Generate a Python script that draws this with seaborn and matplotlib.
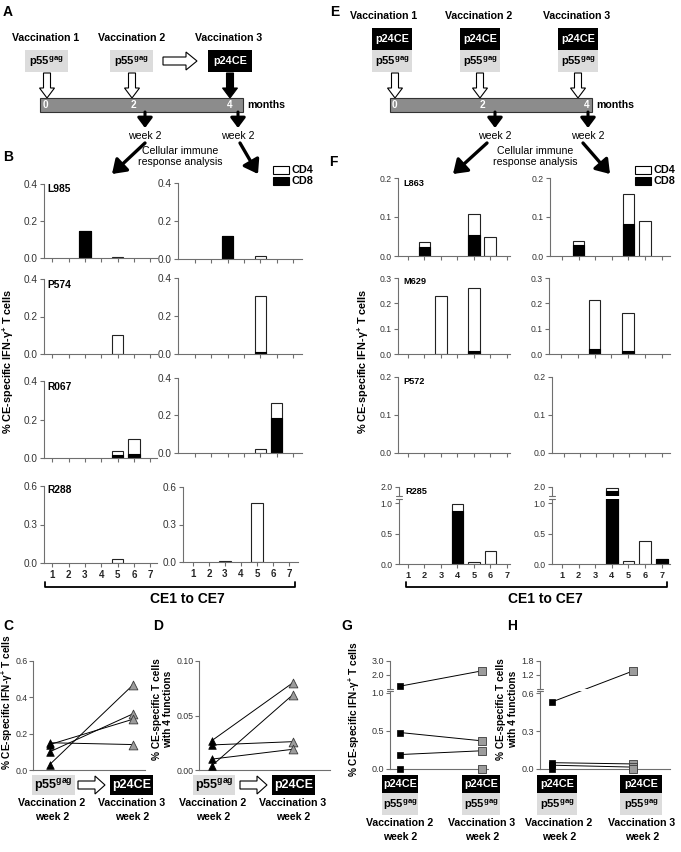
import numpy as np
import pandas as pd
import matplotlib
matplotlib.use("Agg")
import matplotlib.pyplot as plt
from matplotlib.patches import Rectangle, FancyArrow
import seaborn as sns

sns.set_style("white")
plt.rcParams["font.family"] = ["Liberation Sans", "DejaVu Sans"]
plt.rcParams["mathtext.fontset"] = "custom"
plt.rcParams["mathtext.rm"] = "Liberation Sans"
plt.rcParams["mathtext.bf"] = "Liberation Sans:bold"
plt.rcParams["mathtext.default"] = "bf"

# ---------------- data ----------------
ce = [1, 2, 3, 4, 5, 6, 7]

# panel B (p55gag x2 -> p24CE), CD8 bottom / CD4 on top, % of T cells
b_names = ["L985", "P574", "R067", "R288"]
b_cd8_v2 = [[0, 0, 0.148, 0, 0, 0, 0],
            [0, 0, 0, 0, 0, 0, 0],
            [0, 0, 0, 0, 0.017, 0.023, 0],
            [0, 0, 0, 0, 0, 0, 0]]
b_cd4_v2 = [[0, 0, 0, 0, 0.005, 0, 0],
            [0, 0, 0, 0, 0.099, 0, 0],
            [0, 0, 0, 0, 0.021, 0.074, 0],
            [0, 0, 0, 0, 0.033, 0, 0]]
b_cd8_v3 = [[0, 0, 0.123, 0, 0, 0, 0],
            [0, 0, 0, 0, 0.008, 0, 0],
            [0, 0, 0, 0, 0, 0.188, 0],
            [0, 0, 0, 0, 0, 0, 0]]
b_cd4_v3 = [[0, 0, 0, 0, 0.015, 0, 0],
            [0, 0, 0, 0, 0.299, 0, 0],
            [0, 0, 0, 0, 0.021, 0.076, 0],
            [0, 0, 0.006, 0, 0.476, 0, 0]]

# panel F (p24CE + p55gag co-delivery)
f_names = ["L863", "M629", "P572", "R285"]
f_cd8_v2 = [[0, 0.024, 0, 0, 0.053, 0, 0],
            [0, 0, 0, 0, 0.013, 0, 0],
            [0, 0, 0, 0, 0, 0, 0],
            [0, 0, 0, 0.87, 0, 0, 0]]
f_cd4_v2 = [[0, 0.012, 0, 0, 0.055, 0.049, 0],
            [0, 0, 0.228, 0, 0.249, 0, 0],
            [0, 0, 0, 0, 0, 0, 0],
            [0, 0, 0, 0.11, 0.04, 0.22, 0]]
f_cd8_v3 = [[0, 0.027, 0, 0, 0.081, 0, 0],
            [0, 0, 0.021, 0, 0.010, 0, 0],
            [0, 0, 0, 0, 0, 0, 0],
            [0, 0, 0, 1.82, 0, 0, 0.08]]
f_cd4_v3 = [[0, 0.012, 0, 0, 0.078, 0.090, 0],
            [0, 0, 0.192, 0, 0.153, 0, 0],
            [0, 0, 0, 0, 0, 0, 0],
            [0, 0, 0, 0.13, 0.045, 0.38, 0.005]]

# panels C, D, G, H  (vaccination 2 wk2 -> vaccination 3 wk2)
c_pre = [0.15, 0.10, 0.14, 0.03]
c_post = [0.14, 0.31, 0.28, 0.47]
d_pre = [0.027, 0.004, 0.023, 0.010]
d_post = [0.080, 0.069, 0.026, 0.019]
g_pre = [1.2, 0.48, 0.19, 0.0]
g_post = [2.3, 0.37, 0.24, 0.0]
h_pre = [0.53, 0.05, 0.03, 0.0]
h_post = [1.37, 0.04, 0.015, 0.0]

# ---------------- style ----------------
EDGE = "#222222"
SPINE = "#6f6f6f"
TICKC = "#333333"
GREYBOX = "#dcdcdc"
BARGREY = "#8c8c8c"
MKGREY = "#9c9c9c"
YLAB = "% CE-specific IFN-γ$^{+}$ T cells"

W, H = 681, 852
fig = plt.figure(figsize=(W / 100, H / 100), dpi=100)


def box(x0, x1, y0, y1):
    return [x0 / W, 1 - y1 / H, (x1 - x0) / W, (y1 - y0) / H]


ov = fig.add_axes([0, 0, 1, 1])
ov.set_xlim(0, W); ov.set_ylim(H, 0); ov.axis("off")


def T(x, y, s, size=7.6, weight="bold", color="black", ha="center", va="center", rot=0):
    ov.text(x, y, s, fontsize=size, fontweight=weight, color=color, ha=ha, va=va, rotation=rot)


def p55(x0, x1, y0, y1, size=8):
    ov.add_patch(Rectangle((x0, y0), x1 - x0, y1 - y0, fc=GREYBOX, ec="none"))
    T((x0 + x1) / 2, (y0 + y1) / 2 + 0.5, "p55$^{gag}$", size=size)


def p24(x0, x1, y0, y1, size=7.8):
    ov.add_patch(Rectangle((x0, y0), x1 - x0, y1 - y0, fc="black", ec="none"))
    T((x0 + x1) / 2, (y0 + y1) / 2, "p24CE", size=size, color="white")


def hollow_down(x, y0, y1, fc="white"):
    ov.add_patch(FancyArrow(x, y0, 0, y1 - y0, width=7, head_width=15, head_length=10,
                            length_includes_head=True, fc=fc, ec="black", lw=0.8))


def hollow_right(x0, x1, y, w=8, hw=18, hl=11):
    ov.add_patch(FancyArrow(x0, y, x1 - x0, 0, width=w, head_width=hw, head_length=hl,
                            length_includes_head=True, fc="white", ec="black", lw=0.8))


def thin_arrow(x0, y0, x1, y1, lw=2.2, hw=0.45, hl=0.6):
    ov.annotate("", xy=(x1, y1), xytext=(x0, y0),
                arrowprops=dict(arrowstyle=f"-|>,head_width={hw},head_length={hl}",
                                lw=lw, color="black", shrinkA=0, shrinkB=0,
                                mutation_scale=10))


def timeline(x0, x1, labs):
    ov.add_patch(Rectangle((x0, 98), x1 - x0, 14, fc=BARGREY, ec="#333333", lw=0.8))
    for lx, s in labs:
        T(lx, 105.5, s, size=7.2, color="white")
    T(x1 + 4, 105, "months", size=7.6, ha="left")


# ---------- panel A ----------
T(8, 12, "A", size=10)
for cx, s in [(46, "Vaccination 1"), (132, "Vaccination 2"), (229, "Vaccination 3")]:
    T(cx, 38, s)
p55(25, 68, 50, 72)
p55(110, 153, 50, 72)
p24(208, 252, 50, 72)
hollow_right(163, 197, 61)
hollow_down(47, 73, 98)
hollow_down(132, 73, 98)
hollow_down(230, 73, 98, fc="black")
timeline(40, 243, [(45, "0"), (133, "2"), (230, "4")])
for x in (145, 238):
    thin_arrow(x, 112, x, 128)
    T(x, 136, "week 2", size=7.6, weight="normal")
T(180, 151, "Cellular immune", size=7.6, weight="normal")
T(180, 162, "response analysis", size=7.6, weight="normal")
thin_arrow(145, 143, 112, 174, lw=2.4, hw=0.55, hl=0.8)
thin_arrow(240, 143, 258, 174, lw=2.4, hw=0.55, hl=0.8)

# ---------- panel E ----------
T(335, 12, "E", size=10)
for cx, s in [(384, "Vaccination 1"), (479, "Vaccination 2"), (577, "Vaccination 3")]:
    T(cx, 16, s)
for x0 in (372, 460, 558):
    p24(x0, x0 + 40, 28, 50)
    p55(x0, x0 + 40, 50, 72)
for x in (395, 480, 578):
    hollow_down(x, 73, 98)
timeline(390, 592, [(394, "0"), (482, "2"), (587, "4")])
for x in (495, 588):
    thin_arrow(x, 112, x, 128)
    T(x, 136, "week 2", size=7.6, weight="normal")
T(535, 151, "Cellular immune", size=7.6, weight="normal")
T(535, 162, "response analysis", size=7.6, weight="normal")
thin_arrow(487, 143, 453, 174, lw=2.4, hw=0.55, hl=0.8)
thin_arrow(583, 143, 610, 174, lw=2.4, hw=0.55, hl=0.8)

# legends
for lx in (273, 635):
    ov.add_patch(Rectangle((lx, 166), 16, 8, fc="white", ec="black", lw=0.8))
    ov.add_patch(Rectangle((lx, 177), 16, 8, fc="black", ec="black", lw=0.8))
    T(lx + 18, 170, "CD4", size=7.8, ha="left")
    T(lx + 18, 181.5, "CD8", size=7.8, ha="left")

T(8, 157, "B", size=10)
T(333, 162, "F", size=10)


# ---------- bar panels ----------
def style(ax, ylim, yticks, xlim, fmt, tsize, bottom=True):
    ax.patch.set_alpha(0)
    for s in ("top", "right"):
        ax.spines[s].set_visible(False)
    for s in ("left", "bottom"):
        ax.spines[s].set_color(SPINE)
        ax.spines[s].set_linewidth(0.8)
    if not bottom:
        ax.spines["bottom"].set_visible(False)
    ax.set_xlim(*xlim)
    ax.set_ylim(*ylim)
    ax.set_yticks(yticks)
    ax.set_yticklabels([fmt.format(v) for v in yticks])
    ax.tick_params(axis="y", direction="out", length=3, width=0.8, color=SPINE,
                   labelsize=tsize, labelcolor=TICKC, pad=1.5, left=True)
    ax.set_xlabel("")
    ax.set_ylabel("")


def bars(px, cd8, cd4, ylim, yticks, xlim, tsize, xlab=False, xsize=7, bottom=True):
    x0, x1, y0, y1 = px
    ax = fig.add_axes(box(x0, x1, y0, y1))
    tot = [a + b for a, b in zip(cd8, cd4)]
    sns.barplot(x=ce, y=tot, native_scale=True, color="white", edgecolor=EDGE,
                linewidth=0.8, width=0.7, saturation=1, errorbar=None, ax=ax)
    sns.barplot(x=ce, y=cd8, native_scale=True, color="black", edgecolor="black",
                linewidth=0.8, width=0.7, saturation=1, errorbar=None, ax=ax)
    for p in ax.patches:
        if p.get_height() <= 0:
            p.set_visible(False)
    style(ax, ylim, yticks, xlim, "{:.1f}", tsize, bottom)
    if bottom:
        ax.set_xticks(ce)
        ax.set_xticklabels([str(c) for c in ce] if xlab else [""] * 7)
        ax.tick_params(axis="x", direction="out", length=3, width=0.8, color=SPINE,
                       labelsize=xsize, pad=2, bottom=True)
        for lab in ax.get_xticklabels():
            lab.set_fontweight("bold")
    else:
        ax.set_xticks([])
    return ax


# panel B layout (pixel boxes)
bL = [(44, 157, 184, 258), (44, 157, 279, 354), (44, 157, 381, 458), (44, 157, 486, 563)]
bR = [(178, 302, 183, 259), (178, 302, 278, 354), (178, 302, 378, 453), (183, 298, 487, 562)]
b_ylim = [0.4, 0.4, 0.4, 0.6]
b_lab_y = [189, 285, 387, 490]
for i in range(4):
    top = b_ylim[i]
    ticks = [0, top / 2, top]
    last = i == 3
    bars(bL[i], b_cd8_v2[i], b_cd4_v2[i], (0, top), ticks, (0.5, 7.4), 7.2, xlab=last)
    xr = (0.38, 7.56) if last else (-0.05, 7.55)
    bars(bR[i], b_cd8_v3[i], b_cd4_v3[i], (0, top), ticks, xr, 7.2, xlab=last)
    T(47, b_lab_y[i], b_names[i], size=7.4, ha="left")

ov.plot([45, 45, 295, 295], [582, 587, 587, 582], color="black", lw=1.3)
T(187, 599, "CE1 to CE7", size=10)
T(8, 361, YLAB, size=7.8, rot=90)

# panel F layout
fL = [(398, 510, 178, 256), (398, 510, 278, 354), (398, 510, 377, 453)]
fR = [(550, 670, 178, 256), (549, 670, 278, 354), (552, 670, 377, 453)]
f_top = [0.2, 0.3, 0.2]
f_lab_y = [184, 282, 382]
for i in range(3):
    top = f_top[i]
    ticks = [round(0.1 * k, 1) for k in range(int(round(top * 10)) + 1)]
    bars(fL[i], f_cd8_v2[i], f_cd4_v2[i], (0, top), ticks, (0.4, 7.2), 6.2)
    bars(fR[i], f_cd8_v3[i], f_cd4_v3[i], (0, top), ticks, (0.28, 7.5), 6.2)
    T(403, f_lab_y[i], f_names[i], size=6.6, ha="left")

# R285 with broken axis
for (x0, x1, xl), cd8, cd4 in [((399, 510, (0.45, 7.2)), f_cd8_v2[3], f_cd4_v2[3]),
                               ((552, 670, (0.4, 7.5)), f_cd8_v3[3], f_cd4_v3[3])]:
    bars((x0, x1, 499, 564), cd8, cd4, (0, 1.066), [0, 0.5, 1.0], xl, 6.2, xlab=True, xsize=6.6)
    bars((x0, x1, 487, 496), cd8, cd4, (1.6, 2.0), [2.0], xl, 6.2, bottom=False)
    ov.plot([x0 - 3, x0 + 3], [496, 496], color=SPINE, lw=0.8)
    ov.plot([x0 - 3, x0 + 3], [499, 499], color=SPINE, lw=0.8)
T(405, 492, f_names[3], size=6.6, ha="left")

ov.plot([406, 406, 667, 667], [582, 587, 587, 582], color="black", lw=1.3)
T(545, 599, "CE1 to CE7", size=10)
T(363, 361, YLAB, size=7.8, rot=90)


# ---------- panels C, D ----------
def pair_panel(px, pre, post, ylim, yticks, xlim, fmt, marker, pre_s, post_s):
    x0, x1, y0, y1 = px
    ax = fig.add_axes(box(x0, x1, y0, y1))
    n = len(pre)
    df = pd.DataFrame({"visit": [1] * n + [2] * n, "val": pre + post,
                       "unit": list(range(n)) * 2})
    sns.lineplot(data=df, x="visit", y="val", units="unit", estimator=None,
                 color="black", lw=0.7, ax=ax)
    sns.scatterplot(x=[1] * n, y=pre, marker=marker, s=pre_s, color="black",
                    edgecolor="black", linewidth=0.5, clip_on=False, zorder=3, ax=ax)
    sns.scatterplot(x=[2] * n, y=post, marker=marker, s=post_s, color=MKGREY,
                    edgecolor="#3a3a3a", linewidth=0.6, clip_on=False, zorder=3, ax=ax)
    style(ax, ylim, yticks, xlim, fmt, 6.3)
    ax.tick_params(axis="y", pad=1)
    ax.set_xticks([])
    return ax


T(8, 626, "C", size=10)
T(158, 626, "D", size=10)
pair_panel((33, 145, 661, 770), c_pre, c_post, (0, 0.6), [0, 0.2, 0.4, 0.6],
           (0.8, 2.14), "{:.1f}", "^", 30, 40)
pair_panel((199, 330, 661, 770), d_pre, d_post, (0, 0.1), [0, 0.05, 0.1],
           (0.84, 2.46), "{:.2f}", "^", 30, 40)
T(7, 702, YLAB, size=7.3, rot=90)
T(157, 709, "% CE-specific T cells", size=7.3, rot=90)
T(168, 709, "with 4 functions", size=7.3, rot=90)

for (a0, a1, ar0, ar1, c0, c1, t2, t3) in [(32, 75, 78, 105, 110, 153, 52, 132),
                                           (193, 235, 240, 267, 272, 315, 213, 293)]:
    p55(a0, a1, 775, 795, size=9)
    hollow_right(ar0, ar1, 785, w=8, hw=18, hl=10)
    p24(c0, c1, 775, 795, size=9)
    T(t2, 803, "Vaccination 2")
    T(t2, 817, "week 2")
    T(t3, 803, "Vaccination 3")
    T(t3, 817, "week 2")


# ---------- panels G, H (broken y axis) ----------
def broken_panel(x0, x1, xlim, pre, post, lo_lim, lo_ticks, hi_lim, hi_ticks):
    lo = fig.add_axes(box(x0, x1, 691, 769))
    hi = fig.add_axes(box(x0, x1, 661, 689))
    split = lo_ticks[-1]
    style(lo, lo_lim, lo_ticks, xlim, "{:.1f}", 6.5)
    style(hi, hi_lim, hi_ticks, xlim, "{:.1f}", 6.5, bottom=False)
    lo.set_xticks([]); hi.set_xticks([])
    for a, b in zip(pre, post):
        axa = hi if a > split else lo
        axb = hi if b > split else lo
        if axa is axb:
            sns.lineplot(x=[1, 2], y=[a, b], color="black", lw=0.7, ax=axa)
        else:
            pa = axa.transData.transform((1, a))
            pb = axb.transData.transform((2, b))
            b_in_a = axa.transData.inverted().transform(pb)
            a_in_b = axb.transData.inverted().transform(pa)
            axa.plot([1, b_in_a[0]], [a, b_in_a[1]], color="black", lw=0.7)
            axb.plot([a_in_b[0], 2], [a_in_b[1], b], color="black", lw=0.7)
        axa.scatter([1], [a], marker="s", s=24, color="black", edgecolor="black",
                    linewidth=0.5, clip_on=False, zorder=3)
        axb.scatter([2], [b], marker="s", s=30, color=MKGREY, edgecolor="#3a3a3a",
                    linewidth=0.6, clip_on=False, zorder=3)
    ov.plot([x0 - 3, x0 + 3], [689, 689], color=SPINE, lw=0.8)
    ov.plot([x0 - 3, x0 + 3], [691, 691], color=SPINE, lw=0.8)


T(347, 626, "G", size=10)
T(512, 626, "H", size=10)
broken_panel(390, 488, (0.88, 2.07), g_pre, g_post, (0, 1.026), [0, 0.5, 1.0],
             (1.0, 3.0), [2.0, 3.0])
broken_panel(540, 670, (0.85, 2.46), h_pre, h_post, (0, 0.616), [0, 0.3, 0.6],
             (0.6, 1.8), [1.2, 1.8])
T(354, 709, YLAB, size=7.3, rot=90)
T(501, 709, "% CE-specific T cells", size=7.3, rot=90)
T(513, 709, "with 4 functions", size=7.3, rot=90)

for (b0, b1, tx) in [(382, 418, 400), (462, 500, 482), (537, 577, 559), (620, 662, 642)]:
    p24(b0, b1, 775, 793)
    p55(b0, b1, 793, 815)
    T(tx, 823, "Vaccination 2" if tx in (400, 559) else "Vaccination 3")
    T(tx, 837, "week 2")

fig.savefig("out.png", dpi=100)
